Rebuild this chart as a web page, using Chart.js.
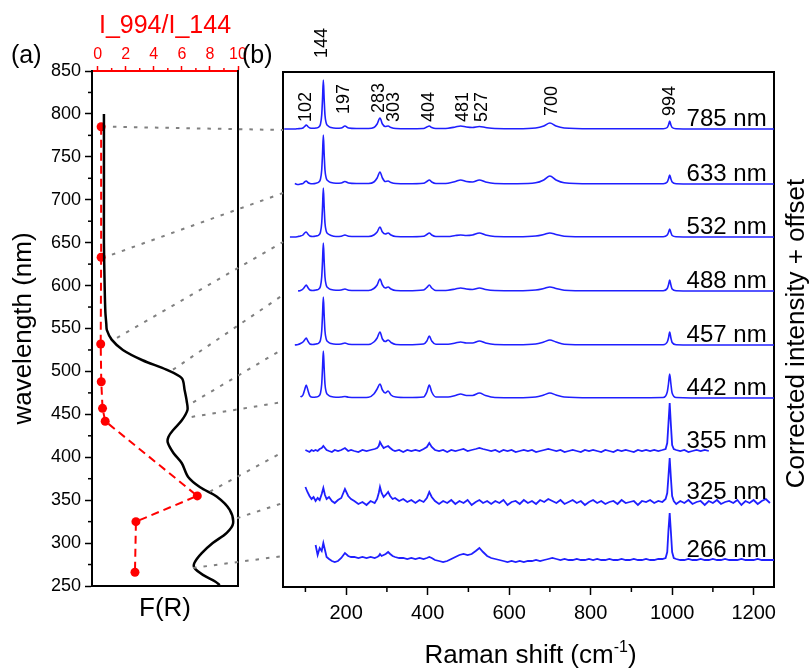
<!DOCTYPE html>
<html>
<head>
<meta charset="utf-8">
<script src="https://cdn.jsdelivr.net/npm/chart.js@4.4.1/dist/chart.umd.min.js"></script>
<style>
  body { margin: 0; background: #fff; }
  canvas { position: absolute; left: 0; top: 0; }
</style>
</head>
<body>
<canvas id="panelA" width="811" height="668"></canvas>
<canvas id="panelB" width="811" height="668"></canvas>
<script>
// ---- panel (a): reflectance F(R) and intensity ratio vs wavelength
const frWavelength = [800, 750, 700, 650, 600, 570, 555, 548, 537, 525, 513, 502, 492, 478, 465, 455, 443, 432, 424, 417, 405, 393, 377, 365, 354, 339, 323, 312, 300, 288, 277, 271, 263, 255, 251];
const frValue = [0.45, 0.45, 0.45, 0.45, 0.5, 0.55, 0.62, 0.66, 1.0, 1.8, 3.2, 4.9, 6.0, 6.2, 6.35, 6.4, 6.0, 5.4, 5.05, 5.0, 5.4, 6.0, 6.45, 7.3, 8.5, 9.4, 9.65, 9.2, 8.2, 7.4, 6.9, 6.9, 7.5, 8.4, 8.7];
const ratioWavelength = [785, 633, 532, 488, 457, 442, 355, 325, 266];
const ratioValue = [0.25, 0.25, 0.22, 0.26, 0.35, 0.54, 7.1, 2.73, 2.66];
const wlTicks = [250, 300, 350, 400, 450, 500, 550, 600, 650, 700, 750, 800, 850];
const ratioTicks = [0, 2, 4, 6, 8, 10];

// ---- panel (b): Raman spectra (intensity above each baseline)
const lasers = ['785 nm', '633 nm', '532 nm', '488 nm', '457 nm', '442 nm', '355 nm', '325 nm', '266 nm'];
const offsets = [458, 403, 350, 296, 242, 189, 136, 85, 27];
const shiftTicks = [200, 400, 600, 800, 1000, 1200];

const shiftVis = [48, 62, 74, 82, 88, 94, 98, 102, 106, 111,
  118, 126, 133, 137, 140, 142, 144, 146, 148, 151,
  156, 163, 175, 188, 197, 206, 225, 255, 268, 276,
  283, 289, 296, 303, 310, 322, 350, 390, 398, 404,
  410, 420, 450, 468, 481, 495, 510, 527, 542, 565,
  620, 665, 685, 700, 715, 735, 800, 900, 978, 988,
  991, 994, 997, 1000, 1010, 1100, 1250];
const int785 = [0, 0, 0, 0.3, 0.5, 1, 2.5, 4, 2.5, 1,
  0.8, 1, 2, 5, 14, 30, 49, 30, 14, 6,
  3, 1.5, 0.8, 1, 3, 1, 0.5, 0.5, 1.5, 5,
  11, 5, 2.5, 3, 1.5, 0.5, 0.3, 0.5, 2, 3,
  1.5, 0.5, 0.8, 2, 3, 2, 1.5, 2.5, 1.5, 0.5,
  0.3, 1, 3, 6, 3, 1, 0.2, 0.2, 0.3, 1.5,
  4, 8, 4, 1.5, 0.3, 0, 0];
const int633 = [null, null, 0.5, -0.5, 0, 0.5, 2, 3, 1.5, 0.5,
  0.3, 0.8, 2, 5, 14, 30, 49, 30, 14, 6,
  3, 1.5, 0.8, 1, 2.5, 1, 0.5, 0.5, 2, 6,
  12, 6, 2.5, 3, 1.5, 0.5, 0.3, 0.8, 2.5, 4,
  2, 0.5, 0.8, 2.5, 4, 2.5, 2, 4, 2, 0.5,
  0.3, 1.2, 4, 8, 4, 1.2, 0.2, 0.2, 0.3, 2,
  5, 9, 5, 2, 0.3, 0, 0];
const int532 = [null, 0, 0, 0.5, 1, 2, 4, 5, 3, 1,
  0.5, 1, 2, 5, 14, 30, 49, 30, 14, 6,
  3, 1.5, 0.5, 0.8, 2, 0.8, 0.5, 0.5, 2, 5,
  10, 5, 3, 4, 2, 0.5, 0.3, 0.8, 2.5, 4,
  2, 0.5, 0.5, 1.5, 2, 1.5, 2, 4, 2, 0.5,
  0.3, 1, 2.5, 4, 2.5, 0.8, 0.2, 0.2, 0.3, 2,
  4.5, 8, 4.5, 1.5, 0.3, 0, 0];
const int488 = [null, null, null, 0, 0.5, 2, 4, 6, 3.5, 1,
  0.5, 1, 2, 5, 14, 30, 48, 30, 14, 6,
  3, 1.5, 0.8, 1, 2, 0.8, 0.5, 0.5, 2.5, 6,
  12, 6, 3, 4, 2, 0.5, 0.3, 1, 3.5, 6,
  3, 0.5, 0.8, 2, 3, 2, 1.5, 3, 1.5, 0.5,
  0.3, 1, 2.5, 4, 2.5, 0.8, 0.2, 0.2, 0.3, 2.5,
  6, 11, 6, 2, 0.3, 0, 0];
const int457 = [null, null, 0, 0.5, 1.5, 3, 5, 7, 4, 1,
  0.5, 1, 2, 5, 14, 30, 48, 30, 14, 6,
  3, 1.5, 0.8, 1, 2, 0.8, 0.5, 0.5, 3, 7,
  13, 6, 3.5, 5, 2.5, 0.5, 0.3, 1, 4, 9,
  4, 0.8, 0.8, 2, 3, 2, 2, 4, 2, 0.5,
  0.3, 1, 3, 5, 3, 0.8, 0.2, 0.2, 0.3, 3,
  7, 13, 7, 2.5, 0.3, 0, 0];
const int442 = [null, null, null, null, 1, 3, 8, 13, 8, 2,
  0.8, 1, 2, 5, 14, 30, 47, 30, 14, 6,
  3, 1.5, 0.8, 1, 1.5, 0.8, 0.5, 0.8, 4, 9,
  14, 8, 5, 7, 3, 1, 0.5, 1, 6, 13,
  6, 1, 1, 2.5, 4, 2.5, 2.5, 5, 2.5, 0.5,
  0.3, 1, 3, 5, 3, 1, 0.2, 0.3, 0.5, 6,
  14, 24, 14, 5, 0.5, 0, 0];

const shiftUV = [100, 105, 110, 115, 120, 125, 130, 135, 140, 144,
  148, 152, 158, 165, 172, 180, 188, 197, 205, 212,
  220, 230, 240, 250, 260, 270, 276, 280, 283, 287,
  292, 297, 303, 308, 314, 320, 330, 340, 350, 360,
  370, 380, 390, 398, 404, 410, 418, 428, 438, 448,
  458, 468, 478, 488, 498, 508, 518, 527, 536, 546,
  556, 566, 576, 586, 596, 606, 616, 626, 636, 646,
  656, 666, 676, 686, 696, 706, 716, 726, 736, 746,
  756, 766, 776, 786, 796, 806, 816, 826, 836, 846,
  856, 866, 876, 886, 896, 906, 916, 926, 936, 946,
  956, 966, 976, 984, 988, 991, 994, 997, 1000, 1004,
  1010, 1020, 1030, 1040, 1050, 1060, 1070, 1080, 1090, 1100,
  1110, 1120, 1130, 1140, 1150, 1160, 1170, 1180, 1190, 1200,
  1210, 1220, 1230, 1240, 1250];
const int355 = [1, 0, -1, 1, 0, 1, 0, 2, 3, 5,
  3, 1, 0, -1, 1, 0, 1, 3, 0, 1,
  0, -1, 1, 0, 1, 2, 3, 5, 9, 6,
  3, 4, 5, 3, 1, 0, 1, -1, 1, 0,
  1, 0, 2, 4, 8, 4, 1, 0, 1, -1,
  1, 0, 1, 2, 0, 1, 2, 3, 2, 1,
  0, 1, -1, 1, 0, 1, -1, 0, 1, 0,
  1, -1, 0, 1, 2, 1, 0, 1, -1, 0,
  1, 0, -1, 1, 0, 1, 0, -1, 1, 0,
  -1, 1, 0, 1, 0, -1, 1, 0, 1, 0,
  1, 0, 1, 2, 8, 28, 48, 26, 6, 2,
  1, 0, 1, -1, 0, 1, 0, 1, 0, null,
  null, null, null, null, null, null, null, null, null, null,
  null, null, null, null, null];
const int325 = [15, 10, 6, 3, 5, 1, 4, 2, 8, 14,
  7, 3, 5, 1, -1, 2, 4, 13, 6, 3,
  1, -2, 0, -3, 1, -1, 3, 9, 15, 9,
  5, 7, 10, 6, 3, 4, 1, 3, 0, 2,
  -1, 2, 0, 4, 10, 5, 1, -2, 1, -1,
  2, -2, 1, -1, 2, -3, 0, 2, -1, 1,
  -2, 1, -1, 2, -3, 0, 1, -2, 2, -1,
  1, -2, 2, 0, 3, 1, -1, 2, -2, 0,
  2, -1, 1, -3, 0, 2, -1, 1, -2, 0,
  1, -2, 2, -1, 0, 1, -3, 1, 0, 2,
  -1, 1, 0, 3, 9, 26, 44, 24, 6, 1,
  -2, 1, -1, 2, -2, 0, 1, -3, 1, -1,
  2, -2, 0, 1, -1, 2, -3, 1, -1, 2,
  -2, 1, 3, -1, null];
const int266 = [null, null, null, null, null, 15, 5, 12, 9, 17,
  10, 3, 1, -1, -2, -1, 2, 7, 4, 3,
  3, 2, 3, 2, 3, 2, 3, 4, 6, 4,
  5, 6, 8, 6, 4, 3, 2, 2, 1, 2,
  1, 2, 1, 2, 3, 2, 0, -1, -2, -1,
  1, 3, 5, 6, 5, 6, 9, 12, 8, 4,
  2, 1, 0, -1, -2, -1, -2, -1, -2, -1,
  -1, 0, -1, 0, 1, 2, 1, 0, 1, 0,
  0, 1, 0, 0, 1, 0, 1, 0, 0, 1,
  0, 0, 1, 0, 0, 1, 0, 0, 1, 0,
  0, 1, 1, 2, 8, 30, 47, 28, 8, 2,
  1, 0, 0, 1, 0, 0, 1, 0, 0, 1,
  0, 0, 1, 0, 0, 0, 1, 0, 0, 0,
  1, 0, 0, 0, 0];

// peak assignments written above the spectra
const peakLabels = ['102', '144', '197', '283', '303', '404', '481', '527', '700', '994'];
const peakLabelX = [101, 140, 195, 280, 317, 403, 487, 533, 705, 995];
const peakLabelY = [465, 529, 473, 474, 465, 465, 465, 465, 471, 471];

// dotted guides from panel (a) to each spectrum
const linkWl = [785, 636, 539, 502, 464, 447, 360, 329, 271];
const linkF = [1.09, 1.02, 1.38, 5.37, 6.8, 6.7, 8.0, 9.93, 6.8];
const linkEnd = [457, 394, 345, 292, 238, 185, 135, 84, 31];

const FONT = '"Liberation Sans", Arial, sans-serif';
Chart.defaults.font.family = FONT;
Chart.defaults.color = '#000';

function toPoints(xs, ys, off) {
  const pts = [];
  xs.forEach((x, i) => {
    if (ys[i] !== null) pts.push({ x: x, y: off + ys[i] });
  });
  return pts;
}

function tickLine(ctx, x1, y1, x2, y2) {
  ctx.beginPath();
  ctx.moveTo(x1, y1);
  ctx.lineTo(x2, y2);
  ctx.stroke();
}

const plain = v => String(v);
const fixTicks = values => s => { s.ticks = values.map(v => ({ value: v })); };

// minor ticks for panel (a)
const minorA = {
  id: 'minorA',
  afterDraw(chart) {
    const ctx = chart.ctx, area = chart.chartArea;
    ctx.save();
    ctx.lineWidth = 1.5;
    ctx.strokeStyle = '#000';
    for (let v = 275; v < 850; v += 50) {
      const py = chart.scales.y.getPixelForValue(v);
      tickLine(ctx, area.left - 4, py, area.left, py);
    }
    ctx.strokeStyle = '#ff0000';
    for (let v = 1; v < 10; v += 2) {
      const px = chart.scales.x.getPixelForValue(v);
      tickLine(ctx, px, area.top - 3, px, area.top);
    }
    ctx.restore();
  }
};

const chartA = new Chart(document.getElementById('panelA'), {
  type: 'scatter',
  data: {
    datasets: [{
      label: 'F(R)',
      data: frWavelength.map((w, i) => ({ x: frValue[i], y: w })),
      xAxisID: 'xF',
      showLine: true,
      borderColor: '#000',
      borderWidth: 2.5,
      pointRadius: 0,
      tension: 0.3
    }, {
      label: 'I_994/I_144',
      data: ratioWavelength.map((w, i) => ({ x: ratioValue[i], y: w })),
      xAxisID: 'x',
      showLine: true,
      borderColor: '#ff0000',
      borderWidth: 2,
      borderDash: [8, 5],
      pointRadius: 4.5,
      pointBackgroundColor: '#ff0000',
      pointBorderWidth: 0
    }]
  },
  options: {
    responsive: false,
    animation: false,
    devicePixelRatio: 1,
    layout: { padding: { left: 0, right: 573, top: 0, bottom: 0 } },
    plugins: { legend: { display: false }, tooltip: { enabled: false } },
    scales: {
      x: {
        type: 'linear', position: 'top', min: -0.4, max: 10,
        afterBuildTicks: fixTicks(ratioTicks),
        ticks: { autoSkip: false, maxRotation: 0, color: '#ff0000', font: { size: 16 }, padding: 2, callback: plain },
        grid: { drawOnChartArea: false, color: '#ff0000', tickLength: 5, tickWidth: 1.5 },
        border: { color: '#ff0000', width: 2 },
        title: { display: true, text: 'I_994/I_144', color: '#ff0000', font: { size: 25 }, padding: { top: 11, bottom: 0 } },
        afterFit: s => { s.height = 71; }
      },
      xF: {
        type: 'linear', position: 'bottom', min: -0.4, max: 10,
        ticks: { display: false },
        grid: { drawOnChartArea: false, drawTicks: false },
        border: { color: '#000', width: 2 },
        title: { display: true, text: 'F(R)', font: { size: 26 }, padding: { top: 0, bottom: 44 } },
        afterFit: s => { s.height = 82; }
      },
      y: {
        type: 'linear', position: 'left', min: 250, max: 850,
        afterBuildTicks: fixTicks(wlTicks),
        ticks: { autoSkip: false, font: { size: 18 }, padding: 4, callback: plain },
        grid: { drawOnChartArea: false, color: '#000', tickLength: 7, tickWidth: 1.5 },
        border: { color: '#000', width: 2 },
        title: { display: true, text: 'wavelength (nm)', font: { size: 26 }, padding: { top: 8, bottom: 0 } },
        afterFit: s => { s.width = 92; }
      },
      yR: {
        type: 'linear', position: 'right',
        ticks: { display: false },
        grid: { drawOnChartArea: false, drawTicks: false },
        border: { color: '#000', width: 2 },
        afterFit: s => { s.width = 0; }
      }
    }
  },
  plugins: [minorA]
});

// text, minor ticks and guides for panel (b)
const decorB = {
  id: 'decorB',
  afterDraw(chart) {
    const ctx = chart.ctx, area = chart.chartArea;
    const xs = chart.scales.x, ys = chart.scales.y;
    ctx.save();

    ctx.strokeStyle = '#000';
    ctx.lineWidth = 1.5;
    for (let v = 100; v < 1250; v += 200) {
      const px = xs.getPixelForValue(v);
      tickLine(ctx, px, area.bottom, px, area.bottom + 5);
    }

    ctx.fillStyle = '#000';
    ctx.font = '18px ' + FONT;
    ctx.textAlign = 'left';
    ctx.textBaseline = 'middle';
    peakLabels.forEach((t, i) => {
      ctx.save();
      ctx.translate(xs.getPixelForValue(peakLabelX[i]), ys.getPixelForValue(peakLabelY[i]));
      ctx.rotate(-Math.PI / 2);
      ctx.fillText(t, 0, 0);
      ctx.restore();
    });

    ctx.font = '24px ' + FONT;
    ctx.textAlign = 'right';
    ctx.textBaseline = 'alphabetic';
    lasers.forEach((t, i) => {
      ctx.fillText(t, xs.getPixelForValue(1232), ys.getPixelForValue(offsets[i] + 3));
    });

    // x title with superscript
    const main = 'Raman shift (cm', sup = '-1', close = ')';
    ctx.textAlign = 'left';
    ctx.font = '26px ' + FONT;
    const w1 = ctx.measureText(main).width, w3 = ctx.measureText(close).width;
    ctx.font = '16px ' + FONT;
    const w2 = ctx.measureText(sup).width;
    const x0 = (area.left + area.right) / 2 - (w1 + w2 + w3) / 2 + 2;
    const by = area.bottom + 76;
    ctx.font = '26px ' + FONT;
    ctx.fillText(main, x0, by);
    ctx.fillText(close, x0 + w1 + w2, by);
    ctx.font = '16px ' + FONT;
    ctx.fillText(sup, x0 + w1, by - 11);

    // right y title
    ctx.save();
    ctx.font = '26px ' + FONT;
    ctx.textAlign = 'center';
    ctx.textBaseline = 'middle';
    ctx.translate(area.right + 23, (area.top + area.bottom) / 2 + 4);
    ctx.rotate(-Math.PI / 2);
    ctx.fillText('Corrected intensity + offset', 0, 0);
    ctx.restore();

    // panel letters
    const aArea = chartA.chartArea;
    ctx.font = '25px ' + FONT;
    ctx.textAlign = 'left';
    ctx.textBaseline = 'middle';
    ctx.fillText('(a)', aArea.left - 81, aArea.top - 15);
    ctx.fillText('(b)', aArea.right + 4, aArea.top - 15);

    // dotted guides
    ctx.strokeStyle = '#808080';
    ctx.lineWidth = 2;
    ctx.setLineDash([3.5, 7]);
    linkWl.forEach((wl, i) => {
      tickLine(ctx,
        chartA.scales.xF.getPixelForValue(linkF[i]), chartA.scales.y.getPixelForValue(wl),
        area.left, ys.getPixelForValue(linkEnd[i]));
    });
    ctx.restore();
  }
};

const visSeries = [int785, int633, int532, int488, int457, int442];
const uvSeries = [int355, int325, int266];
const spectra = [];
visSeries.forEach((s, i) => {
  spectra.push({
    label: lasers[i],
    data: toPoints(shiftVis, s, offsets[i]),
    showLine: true, borderColor: '#1f1fff', borderWidth: 1.6, pointRadius: 0,
    cubicInterpolationMode: 'monotone'
  });
});
uvSeries.forEach((s, i) => {
  spectra.push({
    label: lasers[6 + i],
    data: toPoints(shiftUV, s, offsets[6 + i]),
    showLine: true, borderColor: '#1f1fff', borderWidth: 1.8, pointRadius: 0,
    tension: 0
  });
});

new Chart(document.getElementById('panelB'), {
  type: 'scatter',
  data: { datasets: spectra },
  options: {
    responsive: false,
    animation: false,
    devicePixelRatio: 1,
    layout: { padding: { left: 283, right: 37, top: 72, bottom: 0 } },
    plugins: { legend: { display: false }, tooltip: { enabled: false } },
    scales: {
      x: {
        type: 'linear', position: 'bottom', min: 45, max: 1250,
        afterBuildTicks: fixTicks(shiftTicks),
        ticks: { autoSkip: false, maxRotation: 0, font: { size: 20 }, padding: 6, callback: plain },
        grid: { drawOnChartArea: false, color: '#000', tickLength: 8, tickWidth: 1.5 },
        border: { color: '#000', width: 2 },
        afterFit: s => { s.height = 81; }
      },
      xT: {
        type: 'linear', position: 'top',
        ticks: { display: false },
        grid: { drawOnChartArea: false, drawTicks: false },
        border: { color: '#000', width: 2 },
        afterFit: s => { s.height = 0; }
      },
      y: {
        type: 'linear', position: 'left', min: 0, max: 515,
        ticks: { display: false },
        grid: { drawOnChartArea: false, drawTicks: false },
        border: { color: '#000', width: 2 },
        afterFit: s => { s.width = 0; }
      },
      yR: {
        type: 'linear', position: 'right',
        ticks: { display: false },
        grid: { drawOnChartArea: false, drawTicks: false },
        border: { color: '#000', width: 2 },
        afterFit: s => { s.width = 0; }
      }
    }
  },
  plugins: [decorB]
});
</script>
</body>
</html>
